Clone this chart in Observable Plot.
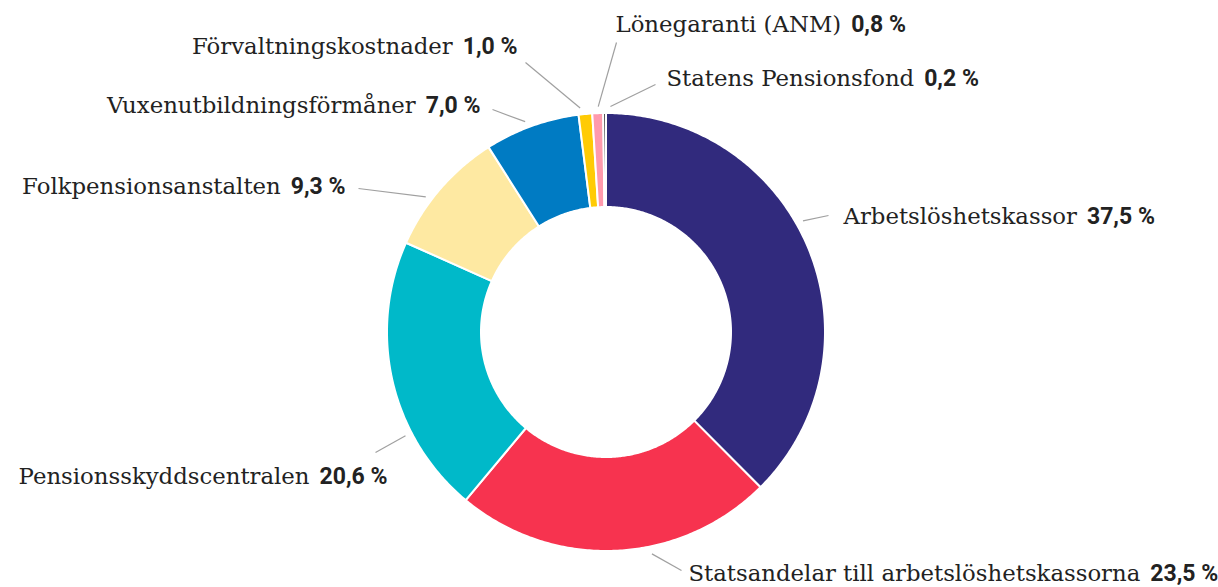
<!DOCTYPE html>
<html>
<head>
<meta charset="utf-8">
<script src="https://cdn.jsdelivr.net/npm/d3@7"></script>
<script src="https://cdn.jsdelivr.net/npm/@observablehq/plot@0.6"></script>
<style>
  html, body { margin: 0; padding: 0; background: #fff; }
  #chart svg { display: block; }
</style>
</head>
<body>
<div id="chart"></div>
<script>
// ---- Data ----
const names = [
  "Arbetslöshetskassor",
  "Statsandelar till arbetslöshetskassorna",
  "Pensionsskyddscentralen",
  "Folkpensionsanstalten",
  "Vuxenutbildningsförmåner",
  "Förvaltningskostnader",
  "Lönegaranti (ANM)",
  "Statens Pensionsfond"
];
const values = [37.5, 23.5, 20.6, 9.3, 7.0, 1.0, 0.8, 0.2];
const colors = ["#312a7d", "#f7334f", "#00b9c9", "#fee9a2", "#007bc3", "#ffcb05", "#ff9aad", "#1a1a1a"];

// ---- Layout (not data) ----
const W = 1218, H = 587;
const cx = 606, cy = 332, rOut = 219, rIn = 125;
// label layout: leader start angle (deg), leader end & text anchor offsets from centre, side
const labelLayout = [
  {a: 60.4,  end: [222, -117], txt: [237, -116], side: "right"},
  {a: 168.4, end: [75, 238],   txt: [82, 241],   side: "right"},
  {a: 242.8, end: [-231, 120], txt: [-219, 144], side: "left"},
  {a: 306.9, end: [-248, -144], txt: [-261, -146], side: "left"},
  {a: 338.9, end: [-114, -223], txt: [-126, -227], side: "left"},
  {a: 353.3, end: [-81, -270], txt: [-89, -286], side: "left"},
  {a: 357.9, end: [10, -290],  txt: [9, -308],   side: "right"},
  {a: 1.0,   end: [49, -248],  txt: [60, -254],  side: "right"}
];
const nameFont = '"DejaVu Serif"', nameSize = 22.8;
const valFont = 'Roboto', valSize = 23;
const gap = 10;

// ---- Build slice polygons from the data ----
const arcs = d3.pie().sort(null).value(d => d)(values);
const pts = [];
arcs.forEach((a, i) => {
  const n = Math.max(4, Math.ceil((a.endAngle - a.startAngle) / 0.01));
  for (let k = 0; k <= n; k++) {
    const t = a.startAngle + (a.endAngle - a.startAngle) * k / n;
    pts.push({
      name: names[i],
      x1: cx + rOut * Math.sin(t), y1: cy - rOut * Math.cos(t),
      x2: cx + rIn * Math.sin(t),  y2: cy - rIn * Math.cos(t)
    });
  }
});

const fmt = v => v.toFixed(1).replace(".", ",") + " %";
const canvas = document.createElement("canvas");
const ctx = canvas.getContext("2d");
function measure(text, font) { ctx.font = font; return ctx.measureText(text).width; }

const links = [], nameLabels = [], valLabels = [];
names.forEach((nm, i) => {
  const L = labelLayout[i];
  const ang = L.a * Math.PI / 180, rs = rOut + 7;
  links.push({x1: cx + rs * Math.sin(ang), y1: cy - rs * Math.cos(ang), x2: cx + L.end[0], y2: cy + L.end[1]});
  const tx = cx + L.txt[0], ty = cy + L.txt[1];
  const vt = fmt(values[i]);
  if (L.side === "right") {
    const nw = measure(nm, `${nameSize}px ${nameFont}`);
    nameLabels.push({x: tx, y: ty, text: nm, anchor: "start"});
    valLabels.push({x: tx + nw + gap, y: ty, text: vt, anchor: "start"});
  } else {
    const vw = measure(vt, `bold ${valSize}px ${valFont}`);
    valLabels.push({x: tx, y: ty, text: vt, anchor: "end"});
    nameLabels.push({x: tx - vw - gap, y: ty, text: nm, anchor: "end"});
  }
});

const chart = Plot.plot({
  width: W, height: H,
  margin: 0, marginTop: 0, marginRight: 0, marginBottom: 0, marginLeft: 0,
  x: {domain: [0, W], range: [0, W], axis: null},
  y: {domain: [0, H], range: [0, H], axis: null},
  color: {domain: names, range: colors},
  style: {background: "#fff"},
  marks: [
    Plot.area(pts, {x1: "x1", y1: "y1", x2: "x2", y2: "y2", z: "name", fill: "name", stroke: "#fff", strokeWidth: 2}),
    Plot.link(links, {x1: "x1", y1: "y1", x2: "x2", y2: "y2", stroke: "#a0a0a0", strokeWidth: 1.2}),
    Plot.text(nameLabels.filter(d => d.anchor === "start"), {x: "x", y: "y", text: "text", textAnchor: "start", fontFamily: nameFont, fontSize: nameSize, fill: "#222"}),
    Plot.text(nameLabels.filter(d => d.anchor === "end"), {x: "x", y: "y", text: "text", textAnchor: "end", fontFamily: nameFont, fontSize: nameSize, fill: "#222"}),
    Plot.text(valLabels.filter(d => d.anchor === "start"), {x: "x", y: "y", text: "text", textAnchor: "start", fontFamily: valFont, fontWeight: "bold", fontSize: valSize, fill: "#222"}),
    Plot.text(valLabels.filter(d => d.anchor === "end"), {x: "x", y: "y", text: "text", textAnchor: "end", fontFamily: valFont, fontWeight: "bold", fontSize: valSize, fill: "#222"})
  ]
});
document.getElementById("chart").appendChild(chart);
</script>
</body>
</html>
